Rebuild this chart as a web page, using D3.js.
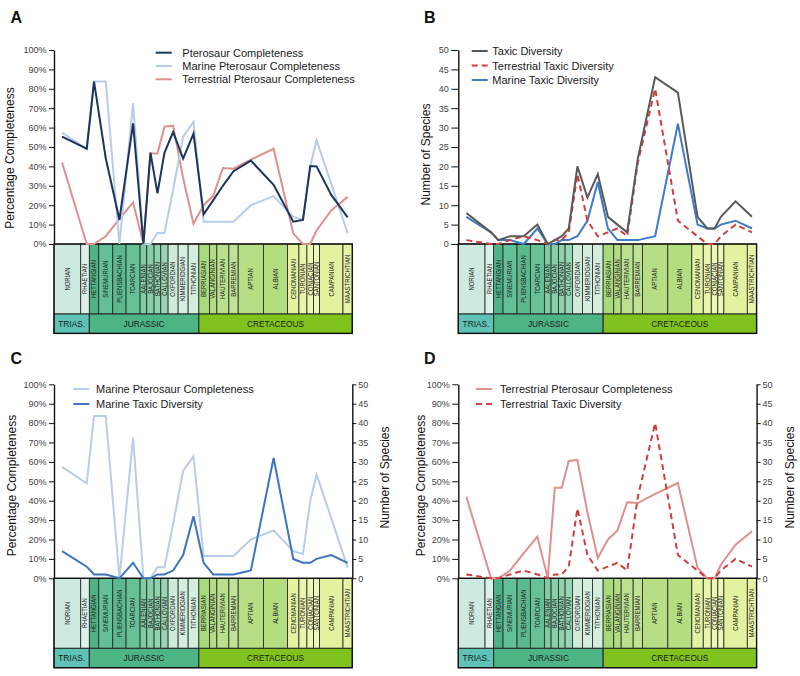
<!DOCTYPE html>
<html><head><meta charset="utf-8">
<script src="https://cdn.jsdelivr.net/npm/d3@7"></script>
<style>
body{margin:0;background:#fff;}
svg{display:block;font-family:"Liberation Sans",Arial,sans-serif;}
</style>
</head><body>
<svg id="chart" width="800" height="676"></svg>
<script>
// ---------- DATA ----------
const stages = ["NORIAN","RHAETIAN","HETTANGIAN","SINEMURIAN","PLIENSBACHIAN","TOARCIAN","AALENIAN","BAJOCIAN","BATHONIAN","CALLOVIAN","OXFORDIAN","KIMMERIDGIAN","TITHONIAN","BERRIASIAN","VALANGINIAN","HAUTERIVIAN","BARREMIAN","APTIAN","ALBIAN","CENOMANIAN","TURONIAN","CONIACIAN","SANTONIAN","CAMPANIAN","MAASTRICHTIAN"];
// relative span of each stage on the drawn timescale
const stageSpan = [26.7,8.6,9.4,14,13.3,14,6.7,7.3,6.7,7.3,10,10,10.7,10.6,7.4,12,9.3,25.3,24,11.4,8,6.6,6,23.4,9.3];
// where in each stage the sample is plotted (fraction of stage span)
const sampleFrac = [0.3,0.7,0.5,0.5,0.5,0.5,0.5,0.5,0.5,0.5,0.5,0.5,0.5,0.45,0.5,0.5,0.5,0.5,0.42,0.5,0.5,0.5,0.5,0.5,0.5];
const stageColor = ["#cdeadf","#dcf1e9","#4fb386","#63bf96","#5ab98d","#66c197","#7fcca3","#86cfa8","#8fd3ad","#96d6b2","#cfecd9","#d5efdf","#d3eedd","#a8d97a","#b1dd84","#b9e08d","#bfe394","#b6df85","#b3de80","#e4f3a3","#e8f5aa","#ecf7b2","#eef8b6","#e3f29f","#e7f4a6"];
const periods = ["TRIAS.","JURASSIC","CRETACEOUS"];
const periodStageCount = [2,11,12];
const periodColor = ["#5ec2b6","#4db585","#80c31e"];

const pctTicks = [0,10,20,30,40,50,60,70,80,90,100];
const speciesTicks = [0,5,10,15,20,25,30,35,40,45,50];

// completeness (%)
const pterosaurCompleteness   = [55.3,49.1,83.7,44.2,12.5,62.2,0,47.1,26.1,47,57.7,44,56.9,15.3,22.5,30,37.5,43,30.5,11.5,12.4,40.2,40,25.3,13.7];
const marineCompleteness      = [57.4,49,83.7,83.7,0,72.5,0,0,5.7,5.7,28,55.3,62.9,11.5,11.5,11.5,11.5,20,24.7,14,12.5,40,53.5,31,5.5];
const terrestrialCompleteness = [42,0,0,4,13,21.5,0,46.7,46.7,60.5,61,34,10.5,20,24.7,39.2,38.8,43.5,49.1,5.5,0,0,7,17.3,24.3];
// taxic diversity (number of species)
const taxicDiversity       = [8,3,1,2,2,5,0,1,2,4,20,12,18,7,5,3,22,43,39,7,4,4,7,11,7];
const terrestrialDiversity = [1,0,0,1,2,1,0,1,1,3,18,6,2,3,4,2,21,40,6,2,0,0,2,5,3];
const marineDiversity      = [7,3,1,1,0,4,0,0,1,1,2,6,16,4,1,1,1,2,31,5,4,4,5,6,4];

// ---------- STYLES ----------
const S = {
  ptero:   {color:"#1b365d", width:2, dash:null},
  marineC: {color:"#b7cde8", width:2, dash:null},
  terrC:   {color:"#e0908c", width:2, dash:null},
  taxic:   {color:"#595959", width:2, dash:null},
  terrD:   {color:"#cf3f3f", width:2, dash:"6,4"},
  marineD: {color:"#3f7bc6", width:2, dash:null},
  marineD2:{color:"#3c75bd", width:2, dash:null}
};

const svg = d3.select("#chart");
const totalSpan = d3.sum(stageSpan);
const stageStart = [0, ...d3.cumsum(stageSpan)].slice(0, stageSpan.length);
const sampleX = stageStart.map((s,i)=> s + stageSpan[i]*sampleFrac[i]);

function panel(cfg){
  const g = svg.append("g");
  const x = d3.scaleLinear().domain([0,totalSpan]).range([cfg.x0, cfg.x0+cfg.w]);
  const yL = d3.scaleLinear().domain([0, cfg.leftMax]).range([cfg.bottom, cfg.top]);
  const yR = cfg.rightMax ? d3.scaleLinear().domain([0,cfg.rightMax]).range([cfg.bottom, cfg.top]) : null;

  // panel letter
  g.append("text").attr("x", cfg.letterX).attr("y", cfg.letterY)
    .attr("font-size",16).attr("font-weight","bold").attr("fill","#111").text(cfg.letter);

  // timescale
  const tsTop = cfg.bottom, stH = 70, pdH = 19.4;
  const ts = g.append("g");
  ts.selectAll("rect.stage").data(stages).join("rect").attr("class","stage")
    .attr("x",(d,i)=>x(stageStart[i])).attr("y",tsTop)
    .attr("width",(d,i)=>x(stageStart[i]+stageSpan[i])-x(stageStart[i]))
    .attr("height",stH).attr("fill",(d,i)=>stageColor[i])
    .attr("stroke","#222").attr("stroke-width",0.8);
  ts.selectAll("text.stage").data(stages).join("text").attr("class","stage")
    .attr("transform",(d,i)=>`translate(${x(stageStart[i]+stageSpan[i]/2)+2.3},${tsTop+stH/2}) rotate(-90) scale(0.85,1)`)
    .attr("text-anchor","middle").attr("font-size",7).attr("fill","#222").text(d=>d);
  let idx = 0;
  periods.forEach((p,k)=>{
    const a = stageStart[idx], b = stageStart[idx+periodStageCount[k]-1] + stageSpan[idx+periodStageCount[k]-1];
    idx += periodStageCount[k];
    ts.append("rect").attr("x",x(a)).attr("y",tsTop+stH).attr("width",x(b)-x(a)).attr("height",pdH)
      .attr("fill",periodColor[k]).attr("stroke","#222").attr("stroke-width",1);
    ts.append("text").attr("x",(x(a)+x(b))/2).attr("y",tsTop+stH+pdH/2+3)
      .attr("text-anchor","middle").attr("font-size",8.3).attr("fill","#1a1a1a").text(p);
  });
  ts.append("rect").attr("x",cfg.x0).attr("y",tsTop).attr("width",cfg.w).attr("height",stH+pdH)
    .attr("fill","none").attr("stroke","#111").attr("stroke-width",1.4);

  // axes
  const la = g.append("g").attr("transform",`translate(${cfg.x0},0)`)
    .call(d3.axisLeft(yL).tickValues(cfg.leftTicks).tickSize(cfg.leftTickSize).tickSizeOuter(0)
      .tickPadding(cfg.leftPad).tickFormat(cfg.leftFmt));
  styleAxis(la);
  if (yR){
    const ra = g.append("g").attr("transform",`translate(${cfg.x0+cfg.w},0)`)
      .call(d3.axisRight(yR).tickValues(speciesTicks).tickSize(4).tickSizeOuter(0).tickPadding(2));
    styleAxis(ra);
  }

  // axis titles
  g.append("text").attr("transform",`translate(${cfg.leftTitleX},${cfg.leftTitleY}) rotate(-90)`)
    .attr("text-anchor","middle").attr("font-size",12).attr("fill","#111").text(cfg.leftTitle);
  if (cfg.rightTitle){
    g.append("text").attr("transform",`translate(${cfg.rightTitleX},${cfg.rightTitleY}) rotate(-90)`)
      .attr("text-anchor","middle").attr("font-size",12).attr("fill","#111").text(cfg.rightTitle);
  }

  // series
  cfg.series.forEach(s=>{
    const ys = s.axis === "R" ? yR : yL;
    const line = d3.line().x((d,i)=>x(sampleX[i])).y(d=>ys(d));
    g.append("path").datum(s.values).attr("d",line).attr("fill","none")
      .attr("stroke",s.style.color).attr("stroke-width",s.style.width)
      .attr("stroke-dasharray",s.style.dash).attr("stroke-linejoin","miter");
  });

  // legend
  const lg = g.append("g");
  cfg.legend.forEach((s,i)=>{
    const yy = cfg.legY + i*cfg.legDy;
    lg.append("line").attr("x1",cfg.legX).attr("x2",cfg.legX+16).attr("y1",yy).attr("y2",yy)
      .attr("stroke",s.style.color).attr("stroke-width",s.style.width).attr("stroke-dasharray",s.style.dash);
    lg.append("text").attr("x",cfg.legTX).attr("y",yy+4).attr("font-size",11).attr("fill","#1a1a1a").text(s.name);
  });
}

function styleAxis(a){
  a.select(".domain").attr("stroke","#111").attr("stroke-width",1.4);
  a.selectAll(".tick line").attr("stroke","#111").attr("stroke-width",1);
  a.selectAll(".tick text").attr("font-size",9).attr("fill","#444")
    .attr("font-family","'Liberation Sans',Arial,sans-serif");
}

const pctFmt = d=>d+"%";

// Panel A
const aSeries = [
  {name:"Pterosaur Completeness", values:pterosaurCompleteness, style:S.ptero},
  {name:"Marine Pterosaur Completeness", values:marineCompleteness, style:S.marineC},
  {name:"Terrestrial Pterosaur Completeness", values:terrestrialCompleteness, style:S.terrC}
];
panel({letter:"A", letterX:10.5, letterY:23, x0:54, w:298.3, top:50, bottom:244,
  leftMax:100, leftTicks:pctTicks, leftFmt:pctFmt, leftTickSize:5, leftPad:2.5,
  leftTitle:"Percentage Completeness", leftTitleX:13.5, leftTitleY:158,
  series:[aSeries[2], aSeries[1], aSeries[0]], legend:aSeries,
  legX:155.7, legTX:182.3, legY:52.7, legDy:13.3});

// Panel B
const bSeries = [
  {name:"Taxic Diversity", values:taxicDiversity, style:S.taxic},
  {name:"Terrestrial Taxic Diversity", values:terrestrialDiversity, style:S.terrD},
  {name:"Marine Taxic Diversity", values:marineDiversity, style:S.marineD}
];
panel({letter:"B", letterX:424, letterY:23, x0:458.3, w:298.3, top:50, bottom:244,
  leftMax:50, leftTicks:speciesTicks, leftFmt:d=>d, leftTickSize:7, leftPad:2.5,
  leftTitle:"Number of Species", leftTitleX:429.5, leftTitleY:154.5,
  series:[bSeries[2], bSeries[1], bSeries[0]], legend:bSeries,
  legX:471.7, legTX:492.3, legY:51, legDy:14.5});

// Panel C
const cSeries = [
  {name:"Marine Pterosaur Completeness", values:marineCompleteness, style:S.marineC, axis:"L"},
  {name:"Marine Taxic Diversity", values:marineDiversity, style:S.marineD2, axis:"R"}
];
panel({letter:"C", letterX:10.5, letterY:364, x0:54, w:298.3, top:384.3, bottom:578.3,
  leftMax:100, leftTicks:pctTicks, leftFmt:pctFmt, leftTickSize:5, leftPad:2.5, rightMax:50,
  leftTitle:"Percentage Completeness", leftTitleX:15.5, leftTitleY:485.5,
  rightTitle:"Number of Species", rightTitleX:389, rightTitleY:477.5,
  series:cSeries, legend:cSeries,
  legX:73.3, legTX:96, legY:389, legDy:15});

// Panel D
const dSeries = [
  {name:"Terrestrial Pterosaur Completeness", values:terrestrialCompleteness, style:S.terrC, axis:"L"},
  {name:"Terrestrial Taxic Diversity", values:terrestrialDiversity, style:S.terrD, axis:"R"}
];
panel({letter:"D", letterX:424, letterY:364, x0:458.3, w:298.3, top:384.3, bottom:578.3,
  leftMax:100, leftTicks:pctTicks, leftFmt:pctFmt, leftTickSize:6, leftPad:2.5, rightMax:50,
  leftTitle:"Percentage Completeness", leftTitleX:424.8, leftTitleY:485.5,
  rightTitle:"Number of Species", rightTitleX:794, rightTitleY:477.5,
  series:dSeries, legend:dSeries,
  legX:476, legTX:500, legY:389, legDy:15});
</script>
</body></html>
